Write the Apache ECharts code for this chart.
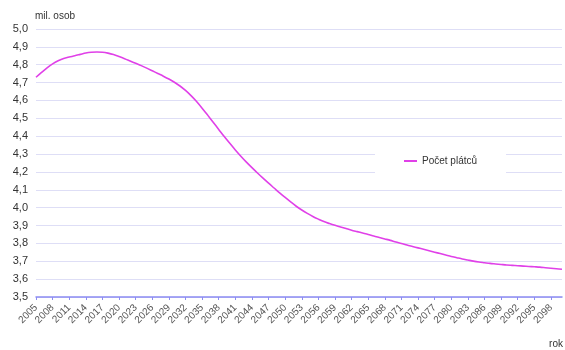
<!DOCTYPE html>
<html>
<head>
<meta charset="utf-8">
<script src="https://cdn.jsdelivr.net/npm/echarts@6/dist/echarts.min.js"></script>
<style>
  html, body { margin: 0; padding: 0; background: #fff; }
  #chart { width: 565px; height: 350px; }
</style>
</head>
<body>
<div id="chart"></div>
<script>
// Years 2005–2100
const years = [];
for (let y = 2005; y <= 2100; y++) years.push(String(y));

// Number of contributors (million persons), one value per year
const payers = [
  4.730, 4.757, 4.783, 4.805, 4.822, 4.835, 4.843, 4.850, 4.858, 4.866, // 2005–2014
  4.870, 4.871, 4.870, 4.865, 4.857, 4.846, 4.834, 4.821, 4.808, 4.795, // 2015–2024
  4.781, 4.766, 4.751, 4.736, 4.720, 4.702, 4.681, 4.656, 4.627, 4.594, // 2025–2034
  4.557, 4.518, 4.478, 4.438, 4.398, 4.360, 4.323, 4.288, 4.255, 4.224, // 2035–2044
  4.194, 4.165, 4.137, 4.110, 4.083, 4.057, 4.032, 4.008, 3.987, 3.968, // 2045–2054
  3.951, 3.936, 3.922, 3.911, 3.901, 3.892, 3.883, 3.874, 3.866, 3.858, // 2055–2064
  3.850, 3.841, 3.833, 3.825, 3.817, 3.808, 3.800, 3.791, 3.783, 3.775, // 2065–2074
  3.767, 3.759, 3.751, 3.743, 3.735, 3.727, 3.720, 3.713, 3.707, 3.701, // 2075–2084
  3.696, 3.692, 3.688, 3.685, 3.682, 3.679, 3.677, 3.675, 3.673, 3.671, // 2085–2094
  3.669, 3.667, 3.664, 3.661, 3.658, 3.655                              // 2095–2100
];

const seriesName = 'Počet plátců';
const yUnit = 'mil. osob';
const xUnit = 'rok';

const FONT = 'Liberation Sans, Arial, sans-serif';

const chart = echarts.init(document.getElementById('chart'), null, { renderer: 'canvas' });
chart.setOption({
  animation: false,
  backgroundColor: '#ffffff',
  textStyle: { fontFamily: FONT },
  grid: { left: 36, right: 3, top: 29, bottom: 53, containLabel: false },
  graphic: [
    { type: 'text', left: 35, top: 11,
      style: { text: yUnit, fill: '#333', font: '10px ' + FONT } },
    { type: 'text', right: 2, top: 339,
      style: { text: xUnit, fill: '#333', font: '10px ' + FONT } }
  ],
  legend: {
    data: [seriesName],
    left: 375, top: 143,
    backgroundColor: '#ffffff',
    padding: [13, 29, 13, 29],
    icon: 'rect',
    itemWidth: 13, itemHeight: 2, itemGap: 4,
    textStyle: { color: '#333', fontSize: 10, fontFamily: FONT }
  },
  xAxis: {
    type: 'category',
    data: years,
    boundaryGap: false,
    axisLine: { lineStyle: { color: '#8c8cf2', width: 1.5 } },
    axisTick: { show: true, interval: 2, length: 3, inside: false, lineStyle: { color: '#8c8cf2' } },
    axisLabel: { interval: 2, rotate: 45, fontSize: 10, color: '#555', margin: 9, fontFamily: FONT },
    splitLine: { show: false }
  },
  yAxis: {
    type: 'value',
    min: 3.5, max: 5.0, interval: 0.1,
    axisLine: { show: false },
    axisTick: { show: false },
    axisLabel: {
      fontSize: 11, color: '#333', margin: 8, fontFamily: FONT,
      formatter: v => v.toFixed(1).replace('.', ',')
    },
    splitLine: { lineStyle: { color: '#dedef6', width: 1 } }
  },
  series: [{
    name: seriesName,
    type: 'line',
    data: payers,
    showSymbol: false,
    smooth: 0.3,
    lineStyle: { color: '#e040e8', width: 1.6 },
    itemStyle: { color: '#e040e8' }
  }]
});
</script>
</body>
</html>
